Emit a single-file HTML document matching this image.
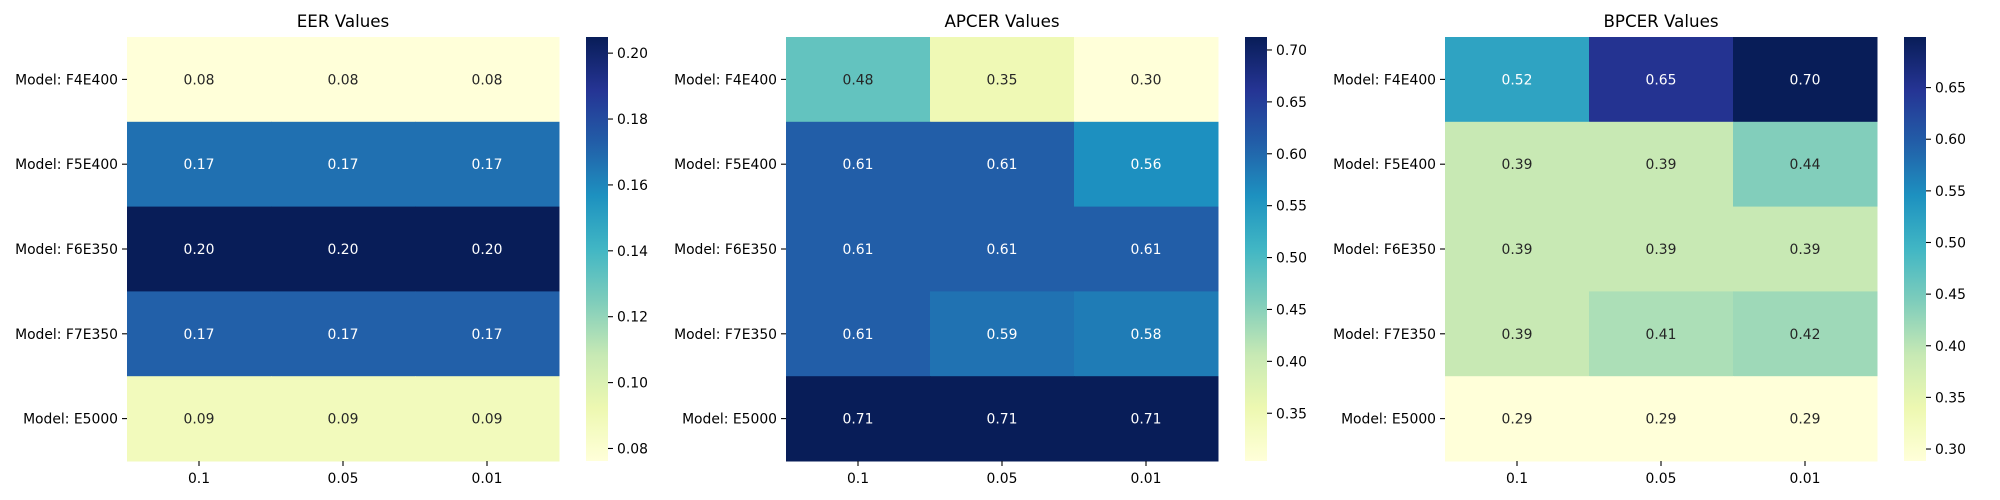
<!DOCTYPE html>
<html><head><meta charset="utf-8"><style>
html,body{margin:0;padding:0;background:#fff}
svg{display:block;font-family:"DejaVu Sans","Liberation Sans",sans-serif}
</style></head><body>
<svg id="fig" width="2000" height="500" xmlns="http://www.w3.org/2000/svg"></svg>
<script>
const rowLabels = ["Model: F4E400","Model: F5E400","Model: F6E350","Model: F7E350","Model: E5000"];
const colLabels = ["0.1","0.05","0.01"];
const titles = ["EER Values","APCER Values","BPCER Values"];
const eerValues = [[0.0762,0.0762,0.0762],[0.167,0.167,0.167],[0.2049,0.2049,0.2049],[0.172,0.172,0.172],[0.088,0.088,0.088]];
const apcerValues = [[0.48,0.35,0.304],[0.61,0.61,0.56],[0.61,0.61,0.61],[0.61,0.59,0.58],[0.7125,0.7125,0.7125]];
const bpcerValues = [[0.52,0.65,0.699],[0.39,0.39,0.44],[0.39,0.39,0.39],[0.39,0.41,0.42],[0.2884,0.2884,0.2884]];
const eerTicks = [0.08,0.10,0.12,0.14,0.16,0.18,0.20];
const apcerTicks = [0.35,0.40,0.45,0.50,0.55,0.60,0.65,0.70];
const bpcerTicks = [0.30,0.35,0.40,0.45,0.50,0.55,0.60,0.65];

const NS="http://www.w3.org/2000/svg";
const svg=document.getElementById('fig');
const stops=["#ffffd9","#edf8b1","#c7e9b4","#7fcdbb","#41b6c4","#1d91c0","#225ea8","#253494","#081d58"].map(h=>[parseInt(h.slice(1,3),16),parseInt(h.slice(3,5),16),parseInt(h.slice(5,7),16)]);
function cmap(t){t=Math.max(0,Math.min(1,t));const p=t*(stops.length-1);const i=Math.min(Math.floor(p),stops.length-2);const f=p-i;return stops[i].map((v,k)=>Math.round(v+(stops[i+1][k]-v)*f));}
function rgb(c){return `rgb(${c[0]},${c[1]},${c[2]})`;}
function lum(c){const l=c.map(v=>{v/=255;return v<=0.03928?v/12.92:Math.pow((v+0.055)/1.055,2.4)});return 0.2126*l[0]+0.7152*l[1]+0.0722*l[2];}
function mk(tag,attrs,parent){const e=document.createElementNS(NS,tag);for(const k in attrs)e.setAttribute(k,attrs[k]);(parent||svg).appendChild(e);return e;}

const plotTop=37,plotBottom=461,hw=432,cbOff=459,cbW=22;
const panels=[[eerValues,eerTicks,127],[apcerValues,apcerTicks,786],[bpcerValues,bpcerTicks,1445]];
panels.forEach((p,pi)=>{
  const vals=p[0],ticks=p[1],x0=p[2];
  const flat=vals.flat();const vmin=Math.min(...flat),vmax=Math.max(...flat);
  const g=mk('g',{});
  
  
  const cw=hw/colLabels.length,rh=(plotBottom-plotTop)/rowLabels.length;
  const t=mk('text',{x:x0+hw/2,y:plotTop-10,'text-anchor':'middle','font-size':'16.7px',fill:'#000'},g);
  t.textContent=titles[pi];
  
  
  vals.forEach((row,ri)=>row.forEach((v,ci)=>{
    const c=cmap((v-vmin)/(vmax-vmin));
    const r=mk('rect',{x:x0+ci*cw,y:plotTop+ri*rh,width:cw+0.5,height:rh+0.5,fill:rgb(c)},g);
    
    
    const tx=mk('text',{x:x0+(ci+0.5)*cw,y:plotTop+(ri+0.5)*rh+5,'text-anchor':'middle','font-size':'13.9px',fill:lum(c)<0.408?'#fff':'#262626'},g);
    tx.textContent=v.toFixed(2);
    
    
  }));
  rowLabels.forEach((l,ri)=>{
    const y=plotTop+(ri+0.5)*rh;
    mk('line',{x1:x0-5,x2:x0,y1:y,y2:y,stroke:'#000','stroke-width':1.1},g);
    const tx=mk('text',{x:x0-9,y:y+5,'text-anchor':'end','font-size':'13.9px',fill:'#000'},g);
    tx.textContent=l;
    
    
  });
  colLabels.forEach((l,ci)=>{
    const x=x0+(ci+0.5)*cw;
    mk('line',{x1:x,x2:x,y1:plotBottom,y2:plotBottom+5,stroke:'#000','stroke-width':1.1},g);
    const tx=mk('text',{x:x,y:plotBottom+22,'text-anchor':'middle','font-size':'13.9px',fill:'#000'},g);
    tx.textContent=l;
    
    
  });
  const cx=x0+cbOff;
  const gid='grad'+pi;
  const defs=mk('defs',{},g);
  const lg=mk('linearGradient',{id:gid,x1:0,y1:1,x2:0,y2:0},defs);
  for(let i=0;i<=16;i++){mk('stop',{offset:i/16,'stop-color':rgb(cmap(i/16))},lg);}
  const cb=mk('rect',{x:cx,y:plotTop,width:cbW,height:plotBottom-plotTop,fill:`url(#${gid})`},g);
  
  
  const ys=v=>plotBottom-(v-vmin)/(vmax-vmin)*(plotBottom-plotTop);
  ticks.forEach(tv=>{
    const y=ys(tv);
    mk('line',{x1:cx+cbW,x2:cx+cbW+5,y1:y,y2:y,stroke:'#000','stroke-width':1.1},g);
    const tx=mk('text',{x:cx+cbW+9,y:y+5,'font-size':'13.9px',fill:'#000'},g);
    tx.textContent=tv.toFixed(2);
    
    
  });
});
</script>
</body></html>
